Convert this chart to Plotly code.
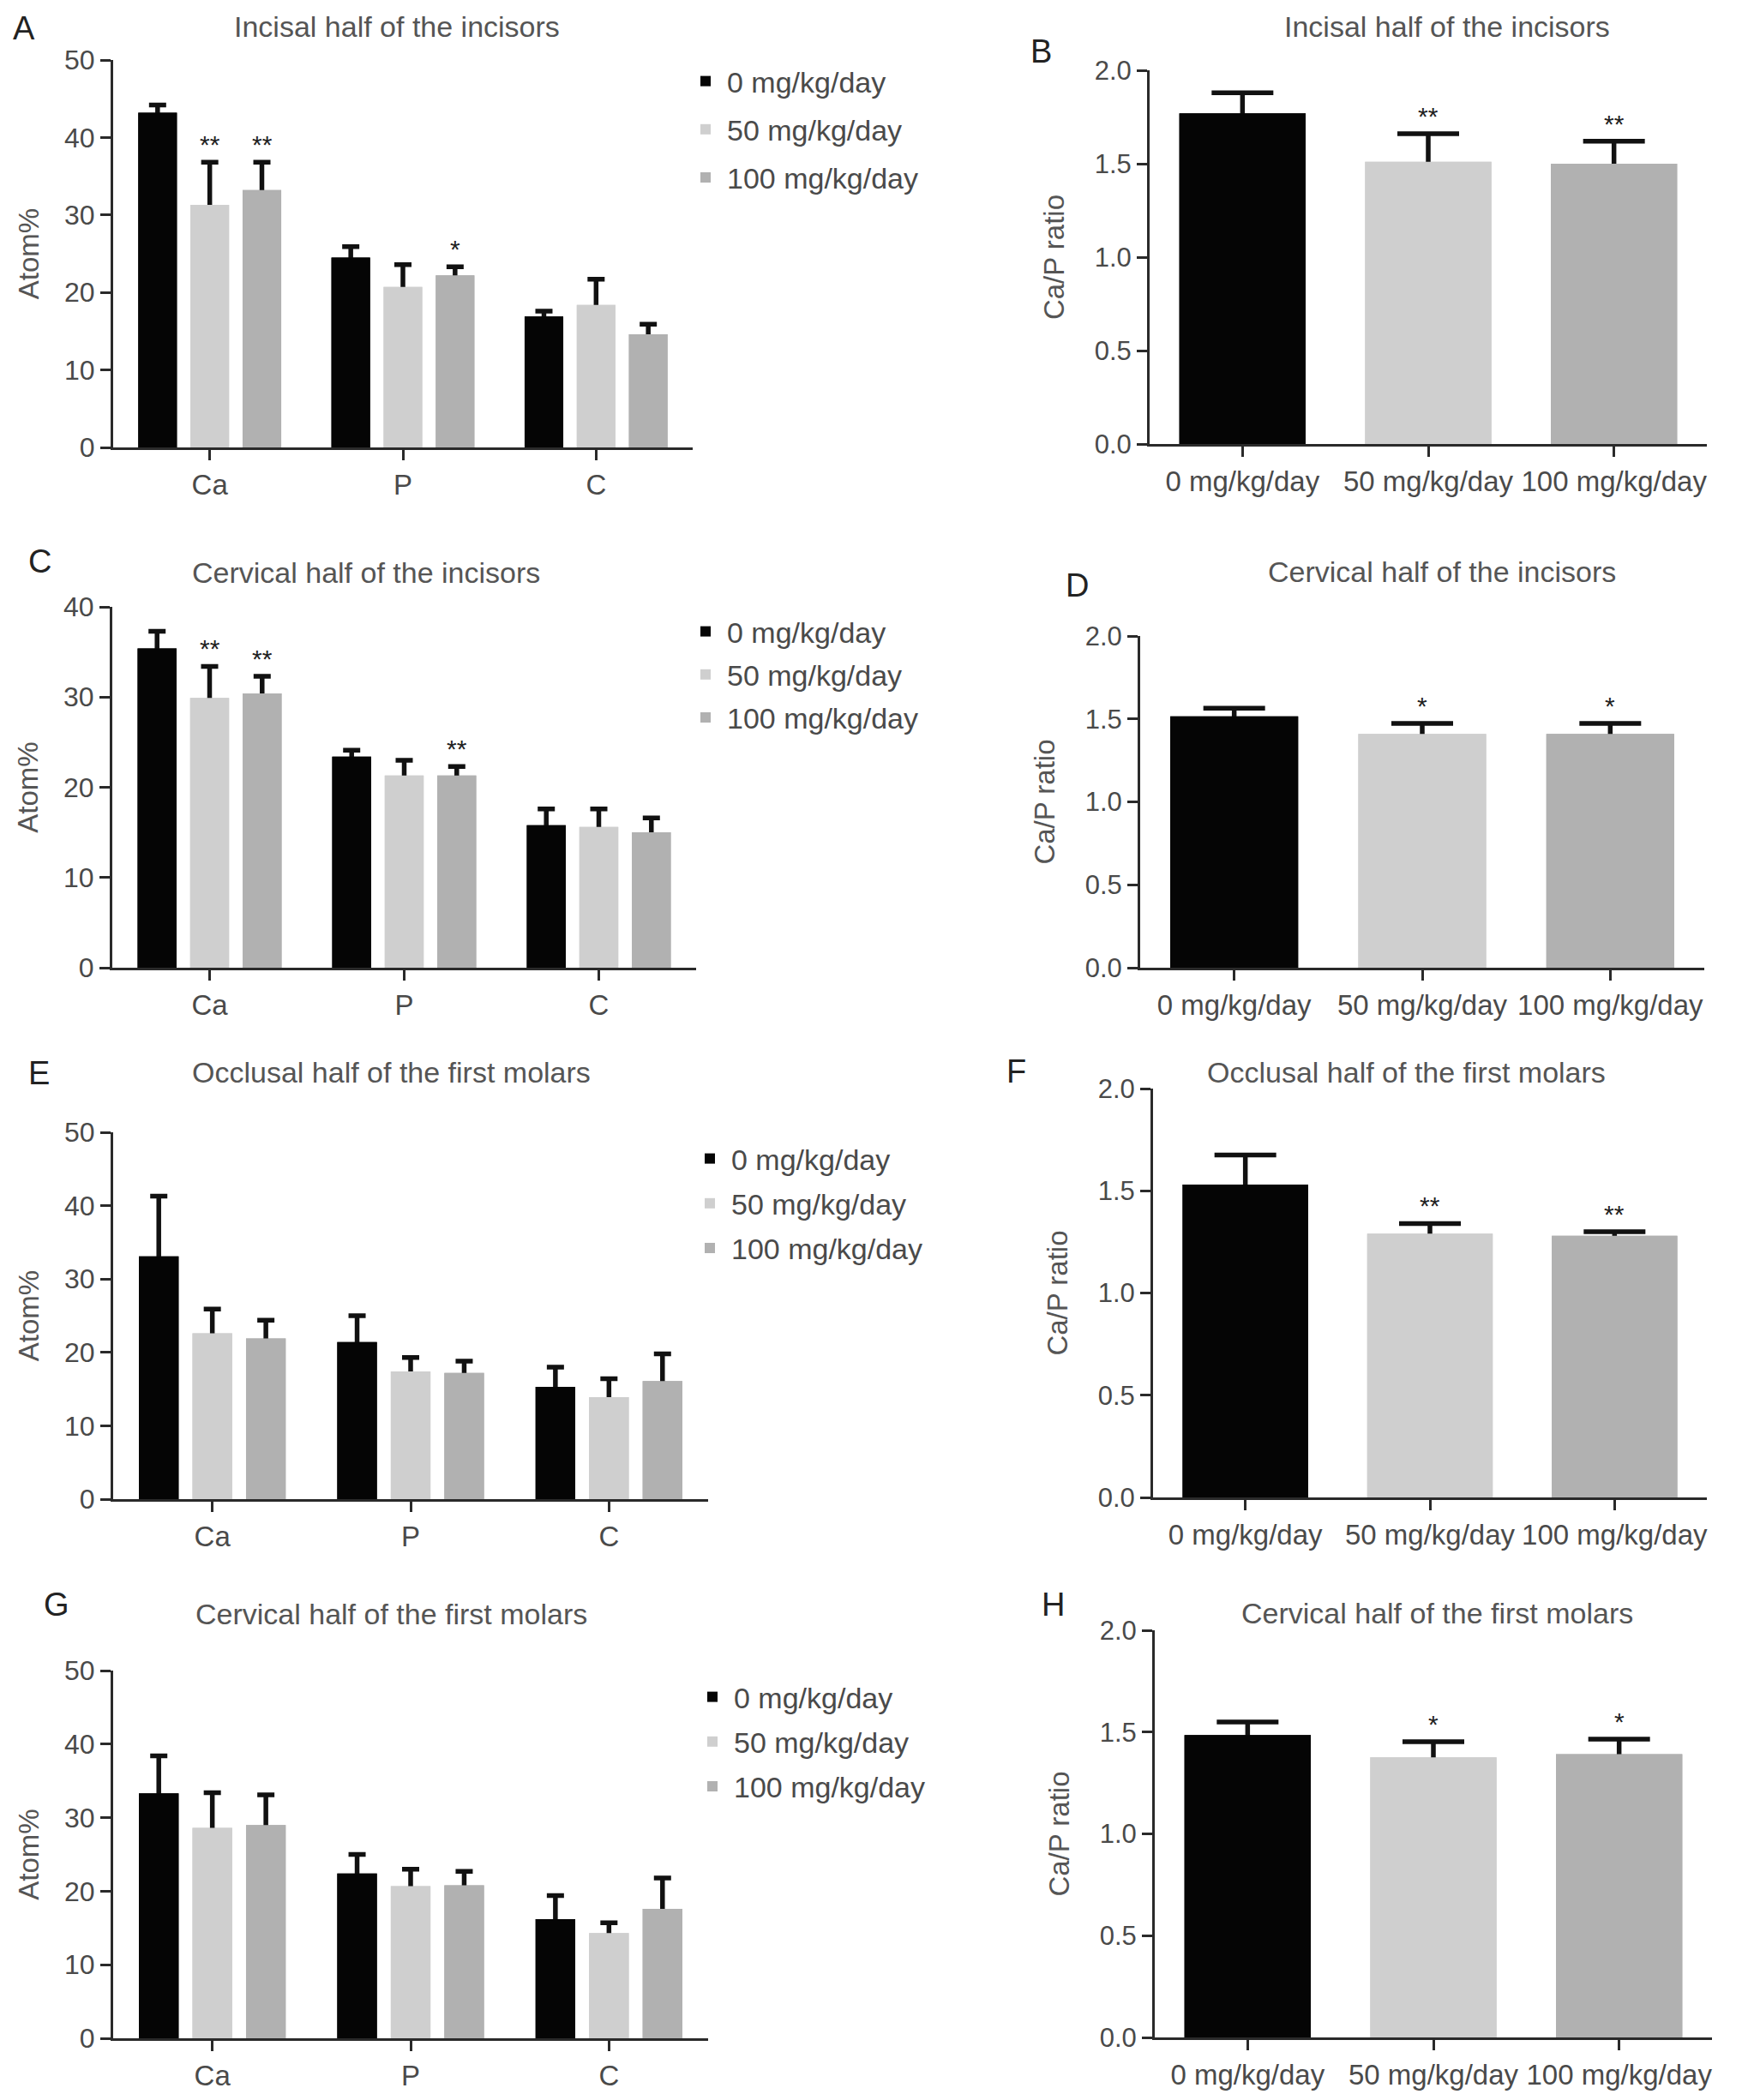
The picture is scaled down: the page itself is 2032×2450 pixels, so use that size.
import plotly.graph_objects as go

W, H = 2032, 2450

# ---------------- data ----------------
categories = ["Ca", "P", "C"]
doses = ["0 mg/kg/day", "50 mg/kg/day", "100 mg/kg/day"]
dose_colors = ["#050505", "#cfcfcf", "#b1b1b1"]

# A - Incisal half of the incisors (Atom%)
a_mean_0 = [43.2, 24.5, 16.9]
a_err_0 = [1.0, 1.4, 0.7]
a_mean_50 = [31.3, 20.7, 18.4]
a_err_50 = [5.5, 2.9, 3.3]
a_mean_100 = [33.2, 22.2, 14.6]
a_err_100 = [3.6, 1.1, 1.3]
a_sig_0 = ["", "", ""]
a_sig_50 = ["**", "", ""]
a_sig_100 = ["**", "*", ""]

# B - Incisal half of the incisors (Ca/P)
b_mean = [1.77, 1.51, 1.50]
b_err = [0.11, 0.15, 0.12]
b_sig = ["", "**", "**"]

# C - Cervical half of the incisors (Atom%)
c_mean_0 = [35.4, 23.4, 15.8]
c_err_0 = [1.9, 0.7, 1.8]
c_mean_50 = [29.9, 21.3, 15.6]
c_err_50 = [3.5, 1.7, 2.0]
c_mean_100 = [30.4, 21.3, 15.0]
c_err_100 = [1.9, 1.0, 1.6]
c_sig_0 = ["", "", ""]
c_sig_50 = ["**", "", ""]
c_sig_100 = ["**", "**", ""]

# D - Cervical half of the incisors (Ca/P)
d_mean = [1.515, 1.41, 1.41]
d_err = [0.05, 0.063, 0.063]
d_sig = ["", "*", "*"]

# E - Occlusal half of the first molars (Atom%)
e_mean_0 = [33.1, 21.4, 15.3]
e_err_0 = [8.2, 3.6, 2.7]
e_mean_50 = [22.6, 17.4, 13.9]
e_err_50 = [3.3, 1.9, 2.5]
e_mean_100 = [21.9, 17.2, 16.1]
e_err_100 = [2.5, 1.6, 3.7]
e_sig_0 = ["", "", ""]
e_sig_50 = ["", "", ""]
e_sig_100 = ["", "", ""]

# F - Occlusal half of the first molars (Ca/P)
f_mean = [1.53, 1.29, 1.28]
f_err = [0.145, 0.05, 0.02]
f_sig = ["", "**", "**"]

# G - Cervical half of the first molars (Atom%)
g_mean_0 = [33.3, 22.4, 16.2]
g_err_0 = [5.1, 2.6, 3.2]
g_mean_50 = [28.6, 20.7, 14.3]
g_err_50 = [4.8, 2.3, 1.4]
g_mean_100 = [29.0, 20.8, 17.6]
g_err_100 = [4.1, 1.9, 4.2]
g_sig_0 = ["", "", ""]
g_sig_50 = ["", "", ""]
g_sig_100 = ["", "", ""]

# H - Cervical half of the first molars (Ca/P)
h_mean = [1.485, 1.376, 1.392]
h_err = [0.064, 0.077, 0.073]
h_sig = ["", "*", "*"]

titles = ["Incisal half of the incisors", "Incisal half of the incisors",
          "Cervical half of the incisors", "Cervical half of the incisors",
          "Occlusal half of the first molars", "Occlusal half of the first molars",
          "Cervical half of the first molars", "Cervical half of the first molars"]
letters = ["A", "B", "C", "D", "E", "F", "G", "H"]

# ---------------- layout helpers ----------------
FONT = "Liberation Sans, Arial, Helvetica, sans-serif"
TXT = "#4a4a4a"
AX = "#2a2a2a"
ERR = "#111111"


def px(x):
    return x / W


def py(y):
    return 1 - y / H


fig = go.Figure()
annotations = []
layout = {}

atom_panels = [
    dict(ax=1, means=[a_mean_0, a_mean_50, a_mean_100], errs=[a_err_0, a_err_50, a_err_100],
         sigs=[a_sig_0, a_sig_50, a_sig_100], ymax=50, xd=(132, 808), yd=(522, 70),
         leg="legend", lpos=(798, 66), gap=9),
    dict(ax=3, means=[c_mean_0, c_mean_50, c_mean_100], errs=[c_err_0, c_err_50, c_err_100],
         sigs=[c_sig_0, c_sig_50, c_sig_100], ymax=40, xd=(131, 812), yd=(1129, 708),
         leg="legend2", lpos=(798, 708), gap=3),
    dict(ax=5, means=[e_mean_0, e_mean_50, e_mean_100], errs=[e_err_0, e_err_50, e_err_100],
         sigs=[e_sig_0, e_sig_50, e_sig_100], ymax=50, xd=(132, 826), yd=(1749, 1321),
         leg="legend3", lpos=(803, 1323), gap=5),
    dict(ax=7, means=[g_mean_0, g_mean_50, g_mean_100], errs=[g_err_0, g_err_50, g_err_100],
         sigs=[g_sig_0, g_sig_50, g_sig_100], ymax=50, xd=(132, 826), yd=(2378, 1949),
         leg="legend4", lpos=(806, 1951), gap=5),
]

ratio_panels = [
    dict(ax=2, mean=b_mean, err=b_err, sig=b_sig, xd=(1341, 1991), yd=(518, 82)),
    dict(ax=4, mean=d_mean, err=d_err, sig=d_sig, xd=(1330, 1988), yd=(1129, 742)),
    dict(ax=6, mean=f_mean, err=f_err, sig=f_sig, xd=(1345, 1991), yd=(1747, 1270)),
    dict(ax=8, mean=h_mean, err=h_err, sig=h_sig, xd=(1347, 1997), yd=(2377, 1902)),
]

BAR_W = 0.2
CENTERS = [-0.27, 0.0, 0.27]


def axis_common():
    return dict(showline=True, linecolor=AX, linewidth=3, ticks="outside",
                tickcolor=AX, tickwidth=3, ticklen=12, showgrid=False, zeroline=False,
                tickfont=dict(family=FONT, size=32, color=TXT))


def err_bar(arr, cap):
    return dict(type="data", symmetric=True, array=arr, color=ERR, thickness=5.5, width=cap)


for p in atom_panels:
    n = p["ax"]
    xa = "x" if n == 1 else f"x{n}"
    ya = "y" if n == 1 else f"y{n}"
    for k in range(3):
        # error bar carrier (its lower half is hidden under the bar drawn on top)
        fig.add_trace(go.Bar(
            x=categories, y=p["means"][k], xaxis=xa, yaxis=ya, showlegend=False,
            hoverinfo="skip", offset=CENTERS[k] - BAR_W / 2, width=BAR_W,
            marker=dict(color=dose_colors[k], line=dict(width=0)),
            error_y=err_bar(p["errs"][k], 10),
        ))
        fig.add_trace(go.Bar(
            x=categories, y=p["means"][k], name=doses[k],
            xaxis=xa, yaxis=ya, legend=p["leg"], legendgroup=f"{p['leg']}_{k}",
            offset=CENTERS[k] - BAR_W / 2, width=BAR_W,
            marker=dict(color=dose_colors[k], line=dict(width=0)),
        ))
        for i, s in enumerate(p["sigs"][k]):
            if s:
                annotations.append(dict(
                    x=i + CENTERS[k], y=p["means"][k][i] + p["errs"][k][i],
                    xref=xa, yref=ya, text=s, showarrow=False, yanchor="bottom",
                    yshift=2, font=dict(family=FONT, size=30, color="#222222")))
    xk = "xaxis" if n == 1 else f"xaxis{n}"
    yk = "yaxis" if n == 1 else f"yaxis{n}"
    layout[xk] = dict(axis_common(), domain=[px(p["xd"][0]), px(p["xd"][1])],
                      range=[-0.5, 2.5], anchor=ya, type="category",
                      tickfont=dict(family=FONT, size=33, color=TXT))
    layout[yk] = dict(axis_common(), domain=[py(p["yd"][0]), py(p["yd"][1])],
                      range=[0, p["ymax"]], dtick=10, anchor=xa,
                      title=dict(text="Atom%", font=dict(family=FONT, size=33, color="#555555"),
                                 standoff=20))
    layout[p["leg"]] = dict(x=px(p["lpos"][0]), y=py(p["lpos"][1]), xanchor="left",
                            yanchor="top", bgcolor="rgba(0,0,0,0)", itemwidth=40,
                            tracegroupgap=p["gap"],
                            font=dict(family=FONT, size=34, color=TXT))

for p in ratio_panels:
    n = p["ax"]
    xa, ya = f"x{n}", f"y{n}"
    fig.add_trace(go.Bar(
        x=doses, y=p["mean"], xaxis=xa, yaxis=ya, showlegend=False, width=0.68,
        hoverinfo="skip", marker=dict(color=dose_colors, line=dict(width=0)),
        error_y=err_bar(p["err"], 36),
    ))
    fig.add_trace(go.Bar(
        x=doses, y=p["mean"], xaxis=xa, yaxis=ya, showlegend=False, width=0.68,
        marker=dict(color=dose_colors, line=dict(width=0)),
    ))
    for i, s in enumerate(p["sig"]):
        if s:
            annotations.append(dict(
                x=i, y=p["mean"][i] + p["err"][i], xref=xa, yref=ya, text=s,
                showarrow=False, yanchor="bottom", yshift=2,
                font=dict(family=FONT, size=30, color="#222222")))
    layout[f"xaxis{n}"] = dict(axis_common(), domain=[px(p["xd"][0]), px(p["xd"][1])],
                               range=[-0.5, 2.5], anchor=ya, type="category",
                               tickfont=dict(family=FONT, size=33, color=TXT))
    layout[f"yaxis{n}"] = dict(axis_common(), domain=[py(p["yd"][0]), py(p["yd"][1])],
                               range=[0, 2.0], dtick=0.5, tickformat=".1f", anchor=xa,
                               tickfont=dict(family=FONT, size=31, color=TXT),
                               title=dict(text="Ca/P ratio",
                                          font=dict(family=FONT, size=33, color="#555555"),
                                          standoff=26))

# titles and panel letters
title_pos = [(463, 31), (1688, 31), (427, 668), (1682, 667),
             (456, 1251), (1640, 1251), (456, 1883), (1676, 1882)]
letter_pos = [(28, 33), (1214, 60), (46, 655), (1256, 683),
              (45, 1252), (1185, 1250), (66, 1872), (1228, 1872)]
for t, (tx, ty) in zip(titles, title_pos):
    annotations.append(dict(x=px(tx), y=py(ty), xref="paper", yref="paper", text=t,
                            showarrow=False, xanchor="center", yanchor="middle",
                            font=dict(family=FONT, size=34, color="#555555")))
for l, (lx, ly) in zip(letters, letter_pos):
    annotations.append(dict(x=px(lx), y=py(ly), xref="paper", yref="paper", text=l,
                            showarrow=False, xanchor="center", yanchor="middle",
                            font=dict(family=FONT, size=38, color="#222222")))

fig.update_layout(
    width=W, height=H, margin=dict(l=0, r=0, t=0, b=0, autoexpand=False),
    paper_bgcolor="white", plot_bgcolor="white", barmode="overlay",
    annotations=annotations, **layout,
)

fig.write_html(
    "out.html",
    config={"displayModeBar": False},
    post_script="document.body.style.margin='0';document.body.style.overflow='hidden';",
)
